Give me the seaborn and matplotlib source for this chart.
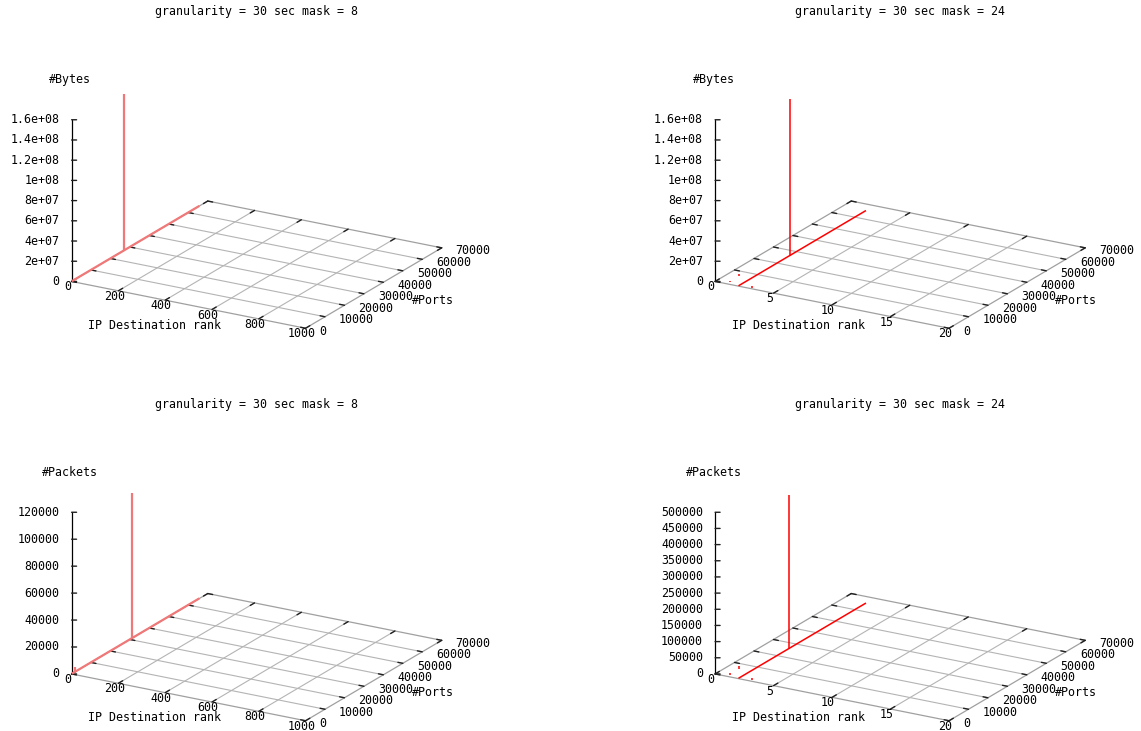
import matplotlib
matplotlib.use("Agg")
import matplotlib.pyplot as plt
import seaborn as sns
from matplotlib.transforms import offset_copy

sns.set_theme(style="white")
plt.rcParams["font.family"] = ["DejaVu Sans Mono", "DejaVu Sans"]
plt.rcParams["font.size"] = 8.4
if "axes3d.automargin" in plt.rcParams:
    plt.rcParams["axes3d.automargin"] = False

# ---------------------------------------------------------------- data
TITLES = ["granularity = 30 sec mask = 8", "granularity = 30 sec mask = 24"]
X_LABEL = "IP Destination rank"
Y_LABEL = "#Ports"
Z_LABELS = ["#Bytes", "#Packets"]

rank_ticks_m8 = [0, 200, 400, 600, 800, 1000]
rank_ticks_m24 = [0, 5, 10, 15, 20]
port_ticks = [0, 10000, 20000, 30000, 40000, 50000, 60000, 70000]

bytes_ticks = [0, 2e7, 4e7, 6e7, 8e7, 1e8, 1.2e8, 1.4e8, 1.6e8]
bytes_tick_labels = ["0", "2e+07", "4e+07", "6e+07", "8e+07",
                     "1e+08", "1.2e+08", "1.4e+08", "1.6e+08"]
packets_ticks_m8 = [0, 20000, 40000, 60000, 80000, 100000, 120000]
packets_ticks_m24 = [0, 50000, 100000, 150000, 200000, 250000,
                     300000, 350000, 400000, 450000, 500000]

# one destination touched on the whole port range: a dense row of tiny impulses
scan_ports = [0, 65535]
scan_rank_m8 = 1
scan_rank_m24 = 2
scan_bytes = 3e5
scan_packets_m8 = 250
scan_packets_m24 = 1000

# individual impulses (rank, port, value)
bytes_m8_rank = [1]
bytes_m8_port = [27000]
bytes_m8_value = [1.55e8]

bytes_m24_rank = [2, 1, 1, 3]
bytes_m24_port = [26500, 1400, 6400, 800]
bytes_m24_value = [1.55e8, 1.5e6, 2.5e6, 2.0e6]

packets_m8_rank = [1, 3]
packets_m8_port = [31000, 1400]
packets_m8_value = [1.08e5, 3800]

packets_m24_rank = [2, 1, 1, 3]
packets_m24_port = [26000, 1400, 6400, 800]
packets_m24_value = [4.76e5, 5000, 8000, 5000]

# ---------------------------------------------------------------- layout / style
FIG_W, FIG_H = 1141, 731
AX_SIDE = 420                      # square 3d axes, pixels
BOX_ZOOM = 407.5 / AX_SIDE
VIEW_ELEV, VIEW_AZIM = 20.1, -59.8
BOX_ASPECT = (1, 1, 0.636)
CENTER0 = (256.65, 183.8)          # projected box centre of the first panel (px, from top)
COL_STEP, ROW_STEP = 643.5, 392.5
TITLE_RISE = 171.8
LIM_FRAC = 0.095 / 0.185           # where 2d origin sits inside the 3d axes square

GRID = "#b4b4b4"
BORDER = "#a0a0a0"
TICK = "#202020"
RED = "#ff0000"
RED_SOFT = "#f07878"

fig = plt.figure(figsize=(FIG_W / 100, FIG_H / 100), dpi=100)
fig.patch.set_facecolor("white")


def text3d(ax, x, y, z, s, dx, dy, **kw):
    tr = offset_copy(ax.transData, fig=fig, x=dx, y=dy, units="dots")
    ax.text(x, y, z, s, transform=tr, color="black", **kw)


def draw_panel(col, row, title, rank_ticks, z_ticks, z_tick_labels, z_label,
               ranks, ports, values, scan_rank, scan_level, color, lw):
    cx = CENTER0[0] + col * COL_STEP
    cy = CENTER0[1] + row * ROW_STEP
    left = cx - LIM_FRAC * AX_SIDE
    bottom = (FIG_H - cy) - LIM_FRAC * AX_SIDE
    ax = fig.add_axes([left / FIG_W, bottom / FIG_H, AX_SIDE / FIG_W, AX_SIDE / FIG_H],
                      projection="3d", computed_zorder=False)
    ax.set_proj_type("ortho")
    ax.view_init(elev=VIEW_ELEV, azim=VIEW_AZIM)
    ax.set_box_aspect(BOX_ASPECT, zoom=BOX_ZOOM)
    ax.set_axis_off()
    ax.patch.set_visible(False)

    xmax, ymax, zmax = rank_ticks[-1], port_ticks[-1], z_ticks[-1]

    # base-plane grid
    for xt in rank_ticks[1:-1]:
        ax.plot([xt, xt], [0, ymax], [0, 0], color=GRID, lw=0.8, zorder=1)
    for yt in port_ticks[1:-1]:
        ax.plot([0, xmax], [yt, yt], [0, 0], color=GRID, lw=0.8, zorder=1)
    # base border and vertical axis
    ax.plot([0, xmax, xmax, 0, 0], [0, 0, ymax, ymax, 0], [0, 0, 0, 0, 0],
            color=BORDER, lw=0.9, zorder=2)
    ax.plot([0, 0], [0, 0], [0, zmax], color="black", lw=0.9, zorder=3)

    # tic marks (inward, mirrored on the back edges)
    tx = 0.0315 * ymax
    ty = 0.021 * xmax
    for xt in rank_ticks:
        ax.plot([xt, xt], [0, tx], [0, 0], color=TICK, lw=1.0, zorder=3)
        ax.plot([xt, xt], [ymax, ymax - tx], [0, 0], color=TICK, lw=1.0, zorder=3)
        text3d(ax, xt, 0, 0, f"{xt}", -4, -5.5, ha="center", va="center")
    for yt in port_ticks:
        ax.plot([xmax, xmax - ty], [yt, yt], [0, 0], color=TICK, lw=1.0, zorder=3)
        ax.plot([0, ty], [yt, yt], [0, 0], color=TICK, lw=1.0, zorder=3)
        text3d(ax, xmax, yt, 0, f"{yt}", 14, -3, ha="left", va="center")
    # z tics run horizontally on screen
    zf = 5.0 / 270.7
    for zt, zl in zip(z_ticks, z_tick_labels):
        ax.plot([0, 0.864 * zf * xmax], [0, 0.503 * zf * ymax], [zt, zt],
                color=TICK, lw=1.0, zorder=3)
        text3d(ax, 0, 0, zt, zl, -12, 0, ha="right", va="center")

    # axis titles
    text3d(ax, xmax / 2, 0, 0, X_LABEL, -34, -20.5, ha="center", va="center")
    text3d(ax, xmax, ymax / 2, 0, Y_LABEL, 59, -12, ha="center", va="center")
    text3d(ax, 0, 0, zmax, z_label, -1.5, 40, ha="center", va="center")

    # port-scan row and impulses
    ax.plot([scan_rank, scan_rank], scan_ports, [scan_level, scan_level],
            color=color, lw=lw, zorder=5, solid_capstyle="butt")
    _, stemlines, _ = ax.stem(ranks, ports, values, linefmt="-",
                              markerfmt=" ", basefmt=" ", bottom=0)
    stemlines.set_color(color)
    stemlines.set_linewidth(lw)
    stemlines.set_zorder(6)

    ax.set_xlim(0, xmax)
    ax.set_ylim(0, ymax)
    ax.set_zlim(0, zmax)

    fig.text(cx / FIG_W, 1 - (cy - TITLE_RISE) / FIG_H, title,
             ha="center", va="center", color="black")


draw_panel(0, 0, TITLES[0], rank_ticks_m8, bytes_ticks, bytes_tick_labels, Z_LABELS[0],
           bytes_m8_rank, bytes_m8_port, bytes_m8_value, scan_rank_m8, scan_bytes,
           RED_SOFT, 1.6)
draw_panel(1, 0, TITLES[1], rank_ticks_m24, bytes_ticks, bytes_tick_labels, Z_LABELS[0],
           bytes_m24_rank, bytes_m24_port, bytes_m24_value, scan_rank_m24, scan_bytes,
           RED, 1.1)
draw_panel(0, 1, TITLES[0], rank_ticks_m8, packets_ticks_m8,
           [str(v) for v in packets_ticks_m8], Z_LABELS[1],
           packets_m8_rank, packets_m8_port, packets_m8_value, scan_rank_m8,
           scan_packets_m8, RED_SOFT, 1.6)
draw_panel(1, 1, TITLES[1], rank_ticks_m24, packets_ticks_m24,
           [str(v) for v in packets_ticks_m24], Z_LABELS[1],
           packets_m24_rank, packets_m24_port, packets_m24_value, scan_rank_m24,
           scan_packets_m24, RED, 1.1)

fig.savefig("out.png", dpi=100, facecolor="white")
